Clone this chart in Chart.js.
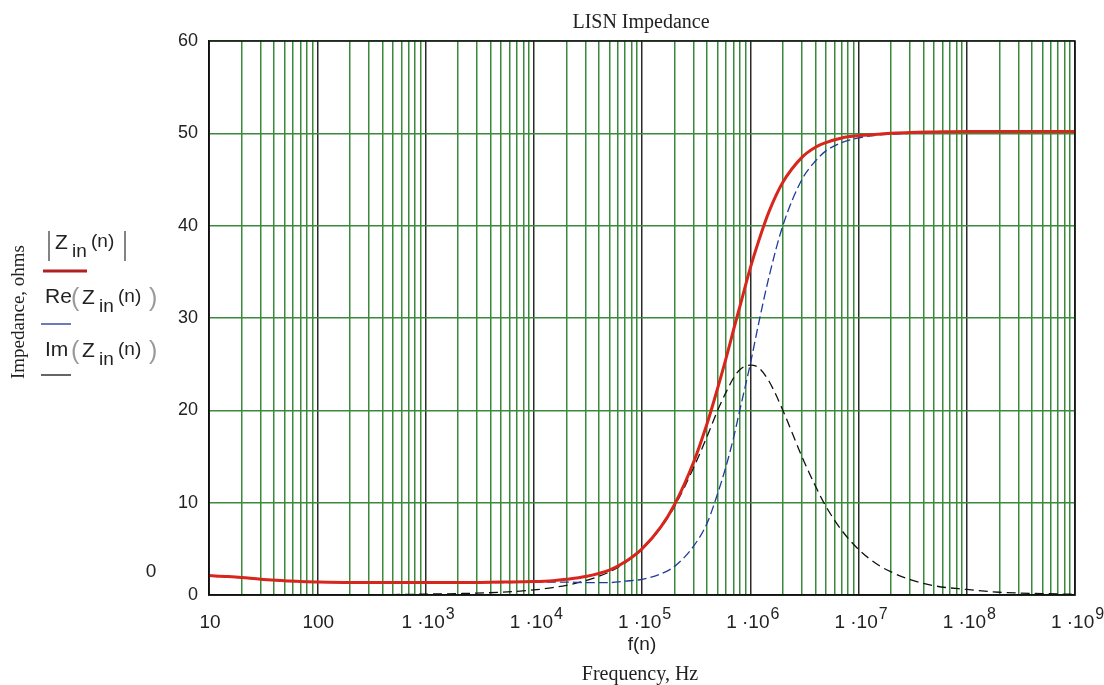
<!DOCTYPE html>
<html>
<head>
<meta charset="utf-8">
<title>LISN Impedance</title>
<script src="https://cdn.jsdelivr.net/npm/chart.js@4.4.0/dist/chart.umd.min.js"></script>
<style>
  html, body { margin: 0; padding: 0; background: #fff; }
  #wrap { width: 1104px; height: 685px; position: relative; }
</style>
</head>
<body>
<div id="wrap"><canvas id="lisnChart"></canvas></div>
<script>
// frequency points (Hz)
const freqs = [10, 15, 20, 30, 50, 70, 100, 200, 500, 1e3, 2e3, 5e3,
  1e4, 1.5e4, 2e4, 3e4, 5e4, 7e4, 1e5, 1.5e5, 2e5, 3e5, 4e5, 5e5, 6e5, 7e5, 8e5,
  1e6, 1.2e6, 1.5e6, 2e6, 3e6, 4e6, 5e6, 7e6, 1e7, 1.5e7, 2e7, 3e7, 5e7,
  1e8, 2e8, 5e8, 1e9];

// |Zin(n)|, ohms
const zMag = [2.1, 2.0, 1.9, 1.7, 1.55, 1.45, 1.4, 1.35, 1.35, 1.35, 1.35, 1.4,
  1.45, 1.55, 1.7, 2.0, 2.7, 3.6, 5.0, 7.4, 9.8, 14.4, 18.6, 22.4, 25.7, 28.7, 31.2,
  35.4, 38.4, 41.6, 44.7, 47.4, 48.5, 49.0, 49.5, 49.75, 49.9, 50.0, 50.1, 50.15,
  50.2, 50.2, 50.2, 50.2];

// Re(Zin(n))
const zRe = [2.05, 1.95, 1.85, 1.7, 1.5, 1.45, 1.4, 1.35, 1.35, 1.35, 1.35, 1.35,
  1.4, 1.4, 1.4, 1.35, 1.35, 1.5, 1.7, 2.3, 3.1, 5.3, 7.8, 11.0, 14.0, 17.0, 20.0,
  25.0, 29.5, 34.6, 40.0, 45.0, 47.0, 48.1, 49.0, 49.5, 49.8, 49.9, 50.0, 50.1,
  50.15, 50.2, 50.2, 50.2];

// Im(Zin(n))
const zIm = [0.05, 0.05, 0.05, 0.05, 0.05, 0.05, 0.05, 0.05, 0.05, 0.1, 0.15, 0.3,
  0.55, 0.8, 1.05, 1.55, 2.5, 3.5, 4.95, 7.3, 9.6, 13.8, 17.2, 20.0, 22.0, 23.5, 24.4,
  24.9, 24.6, 23.1, 20.0, 15.0, 11.8, 9.6, 7.0, 4.95, 3.3, 2.5, 1.67, 1.0,
  0.6, 0.3, 0.15, 0.08];

const xDecades = [10, 100, 1e3, 1e4, 1e5, 1e6, 1e7, 1e8, 1e9];
// mantissa part and exponent part of each decade label
const xTickBase = ['10', '100', '1 ·10', '1 ·10', '1 ·10', '1 ·10', '1 ·10', '1 ·10', '1 ·10'];
const xTickExp = ['', '', '3', '4', '5', '6', '7', '8', '9'];
const yTicks = [0, 10, 20, 30, 40, 50, 60];

const GREEN = '#3b8a3b';
const DARK = '#2a2a2a';
const TXT = '#222';
const SANS = '"Liberation Sans", Arial, sans-serif';

function isDecade(v) {
  const l = Math.log10(v);
  return Math.abs(l - Math.round(l)) < 1e-9;
}

function pts(arr) {
  return freqs.map((f, i) => ({ x: f, y: arr[i] }));
}

// extra text: title, axis names, x labels with exponents, mathcad-style legend
const decorPlugin = {
  id: 'decor',
  afterDraw(chart) {
    const ctx = chart.ctx;
    const a = chart.chartArea;
    const xs = chart.scales.x;
    ctx.save();

    // frame
    ctx.strokeStyle = '#111';
    ctx.lineWidth = 1.5;
    ctx.strokeRect(a.left, a.top, a.right - a.left, a.bottom - a.top);

    // x decade labels
    ctx.fillStyle = TXT;
    ctx.textBaseline = 'alphabetic';
    ctx.textAlign = 'left';
    xDecades.forEach((d, i) => {
      const px = xs.getPixelForValue(d);
      ctx.font = '19px ' + SANS;
      const wb = ctx.measureText(xTickBase[i]).width;
      let we = 0;
      if (xTickExp[i]) {
        ctx.font = '16px ' + SANS;
        we = ctx.measureText(xTickExp[i]).width;
      }
      const x0 = px - (wb + we) / 2 + (we ? 2 : 1);
      ctx.font = '19px ' + SANS;
      ctx.fillText(xTickBase[i], x0, 628);
      if (we) {
        ctx.font = '16px ' + SANS;
        ctx.fillText(xTickExp[i], x0 + wb + 1, 619);
      }
    });

    ctx.textAlign = 'center';
    ctx.textBaseline = 'middle';
    ctx.font = '20px "Liberation Serif", serif';
    ctx.fillText('LISN Impedance', 641, 23);
    ctx.fillText('Frequency, Hz', 640, 675);

    ctx.font = '19px ' + SANS;
    ctx.fillText('f(n)', 642, 645);
    ctx.fillText('0', 151, 572);

    ctx.save();
    ctx.translate(19, 312);
    ctx.rotate(-Math.PI / 2);
    ctx.font = '19px "Liberation Serif", serif';
    ctx.fillText('Impedance, ohms', 0, 0);
    ctx.restore();

    // legend
    ctx.textAlign = 'left';
    ctx.textBaseline = 'alphabetic';
    function zin(x, base) {
      ctx.fillStyle = TXT;
      ctx.font = '21px ' + SANS;
      ctx.fillText('Z', x, base);
      ctx.font = '19px ' + SANS;
      ctx.fillText('in', x + 17, base + 8);
      ctx.fillText('(n)', x + 36, base - 2);
    }
    // |Zin(n)|
    ctx.strokeStyle = '#333';
    ctx.lineWidth = 1.2;
    ctx.beginPath();
    ctx.moveTo(49, 231); ctx.lineTo(49, 261);
    ctx.moveTo(125, 231); ctx.lineTo(125, 261);
    ctx.stroke();
    zin(55, 249);
    ctx.strokeStyle = '#b02020';
    ctx.lineWidth = 3;
    ctx.beginPath(); ctx.moveTo(43, 271); ctx.lineTo(87, 271); ctx.stroke();

    // Re(Zin(n)) and Im(Zin(n))
    [['Re', 303, '#1f2f9a', 324], ['Im', 356, '#111', 375]].forEach(([p, base, col, ly]) => {
      ctx.fillStyle = TXT;
      ctx.font = '21px ' + SANS;
      ctx.fillText(p, 45, base);
      ctx.fillStyle = '#999';
      ctx.font = '25px ' + SANS;
      ctx.fillText('(', 71, base + 3);
      ctx.fillText(')', 149, base + 3);
      zin(82, base + 1);
      ctx.strokeStyle = col;
      ctx.lineWidth = 1.3;
      ctx.beginPath(); ctx.moveTo(41, ly); ctx.lineTo(71, ly); ctx.stroke();
    });

    ctx.restore();
  }
};

new Chart(document.getElementById('lisnChart'), {
  type: 'line',
  data: {
    datasets: [
      { label: '|Zin(n)|', data: pts(zMag), borderColor: '#d9261c', borderWidth: 3,
        pointRadius: 0, cubicInterpolationMode: 'monotone' },
      { label: 'Re(Zin(n))', data: pts(zRe), borderColor: '#1f3a9e', borderWidth: 1.3,
        borderDash: [9, 4], pointRadius: 0, cubicInterpolationMode: 'monotone' },
      { label: 'Im(Zin(n))', data: pts(zIm), borderColor: '#111', borderWidth: 1.3,
        borderDash: [9, 5], pointRadius: 0, cubicInterpolationMode: 'monotone' }
    ]
  },
  options: {
    responsive: true,
    maintainAspectRatio: false,
    animation: false,
    layout: { padding: { left: 0, top: 41, right: 29, bottom: 0 } },
    plugins: { legend: { display: false }, tooltip: { enabled: false } },
    scales: {
      x: {
        type: 'logarithmic',
        min: 10, max: 1e9,
        afterBuildTicks: s => {
          const t = [];
          xDecades.forEach((d, i) => {
            if (i === xDecades.length - 1) { t.push({ value: d }); return; }
            for (let k = 1; k <= 9; k++) t.push({ value: d * k });
          });
          s.ticks = t;
        },
        afterFit: s => { s.height = 90; s.paddingLeft = 0; s.paddingRight = 0; },
        grid: {
          drawTicks: false,
          lineWidth: 1.5,
          color: c => (c.tick && isDecade(c.tick.value)) ? DARK : GREEN
        },
        border: { display: true, color: '#111', width: 1.5 },
        ticks: { autoSkip: false, maxRotation: 0, callback: () => '' }
      },
      y: {
        min: 0, max: 60,
        afterBuildTicks: s => { s.ticks = yTicks.map(v => ({ value: v })); },
        afterFit: s => { s.width = 209; },
        grid: { drawTicks: false, lineWidth: 1.5, color: GREEN },
        border: { display: true, color: '#111', width: 1.5 },
        ticks: {
          padding: 11, color: TXT,
          font: { family: SANS, size: 18 }
        }
      }
    }
  },
  plugins: [decorPlugin]
});
</script>
</body>
</html>
